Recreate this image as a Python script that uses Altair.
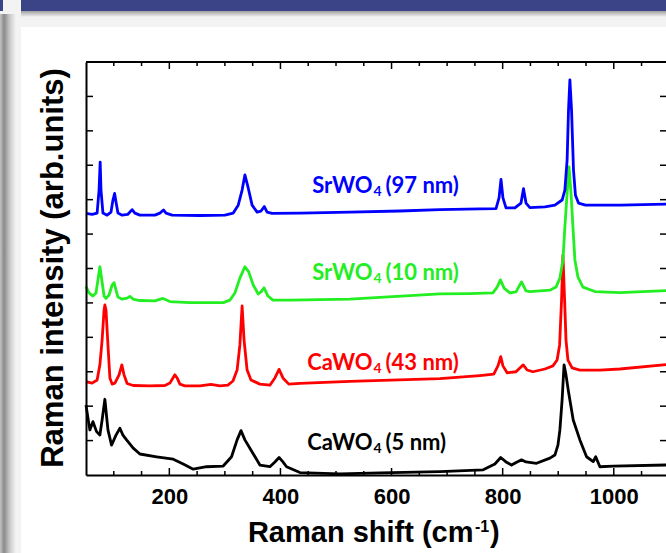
import altair as alt
import pandas as pd

# ---------------- data ----------------
black_x = [50, 53.5, 57, 62.5, 69, 75, 79, 84, 89.5, 96, 104, 111, 116.5, 123, 135, 147, 177, 207, 225, 243,
           267, 297, 312, 322, 329, 336, 345, 363, 381, 390, 397.5, 404.5, 411, 435, 507, 579, 687, 765, 786, 796.5,
           806, 816, 826, 834, 842, 861, 885, 894, 899.5, 903, 907, 910.5, 914, 918, 927, 939, 951, 963, 967.5, 975,
           999, 1094]
black_y = [2.03, 1.66, 1.31, 1.55, 1.26, 1.16, 1.60, 2.20, 1.31, 0.87, 1.16, 1.36, 1.16, 1.02, 0.78, 0.61, 0.53, 0.46, 0.32, 0.17,
           0.24, 0.26, 0.53, 1.02, 1.29, 1.02, 0.78, 0.29, 0.24, 0.38, 0.51, 0.38, 0.24, 0.07, 0.03, 0.06, 0.10, 0.15, 0.32, 0.51,
           0.38, 0.29, 0.38, 0.44, 0.38, 0.34, 0.49, 0.58, 0.87, 1.31, 2.18, 3.20, 2.91, 2.47, 1.60, 1.02, 0.53, 0.39, 0.53, 0.24,
           0.26, 0.29]

red_x = [50, 61, 70, 75, 79, 82.5, 84, 86, 89.5, 93, 97, 102, 109.5, 114.5, 118.5, 124, 135, 165, 192, 201,
         206.5, 210, 214, 219, 228, 255, 275, 291, 305.5, 314.5, 322, 327, 331, 334.5, 340, 347, 363, 381, 390, 397.5,
         404.5, 415, 435, 525, 687, 759, 784, 791.5, 796.5, 800.5, 808, 824, 831, 837, 844, 854.5, 876, 890.5, 898, 902.5,
         906, 908.5, 911.5, 914, 917.5, 925, 939, 975, 1011, 1094]
red_y = [2.71, 2.67, 2.76, 3.20, 3.92, 4.79, 4.94, 4.79, 3.78, 2.82, 2.64, 2.67, 2.91, 3.20, 2.91, 2.66, 2.60, 2.59, 2.60, 2.67,
         2.82, 2.91, 2.82, 2.64, 2.59, 2.59, 2.63, 2.59, 2.61, 2.73, 3.05, 3.78, 4.91, 3.92, 3.05, 2.76, 2.64, 2.61, 2.82, 3.07,
         2.82, 2.64, 2.66, 2.72, 2.80, 2.89, 2.93, 3.17, 3.44, 3.17, 2.97, 3.00, 3.11, 3.20, 3.05, 3.00, 3.08, 3.17, 3.34, 3.78,
         5.08, 6.39, 5.08, 3.92, 3.34, 3.11, 3.05, 3.05, 3.08, 3.21]

green_x = [50, 55.5, 62.5, 68, 71.5, 75, 79, 82.5, 86, 91.5, 97, 100.5, 104, 107.5, 115, 124, 129, 136, 147, 174,
           188.5, 201, 237, 297, 309, 318, 327, 336, 343, 351, 360, 365, 370.5, 377.5, 386.5, 417, 525, 687, 741, 782.5,
           790, 796, 802.5, 813, 824, 834, 842, 849, 885, 896, 903, 908.5, 912, 916, 919.5, 923, 926.5, 930, 935.5, 944.5,
           966, 1011, 1094]
green_y = [5.47, 5.29, 5.20, 5.29, 5.67, 6.05, 5.61, 5.20, 5.13, 5.23, 5.52, 5.59, 5.37, 5.17, 5.11, 5.14, 5.19, 5.10, 5.07, 5.06,
           5.13, 5.04, 5.01, 5.01, 5.08, 5.29, 5.72, 6.05, 5.90, 5.52, 5.26, 5.32, 5.44, 5.20, 5.08, 5.08, 5.11, 5.26, 5.27, 5.29,
           5.46, 5.67, 5.43, 5.29, 5.32, 5.61, 5.35, 5.33, 5.37, 5.46, 5.72, 6.25, 7.21, 8.19, 8.95, 8.19, 7.21, 6.25, 5.75, 5.46,
           5.33, 5.30, 5.36]

blue_x = [50, 61, 70, 73.5, 75.5, 77, 80.5, 88, 95, 98.5, 101.5, 104, 107.5, 115, 125, 133, 138, 147, 174, 183,
          189.5, 194, 205, 255, 300, 315, 324, 331, 336, 342, 349, 358, 365, 371, 376, 385, 435, 525, 615, 687,
          759, 788, 793.5, 797, 800.5, 806, 822, 833, 837.5, 842, 849, 876, 894, 907, 912, 916, 918.5, 921, 924, 927.5,
          931, 936.5, 949, 1012, 1094]
blue_y = [7.60, 7.57, 7.61, 8.28, 9.09, 8.28, 7.61, 7.55, 7.64, 7.99, 8.18, 7.93, 7.61, 7.55, 7.57, 7.71, 7.61, 7.55, 7.55, 7.61,
          7.70, 7.61, 7.55, 7.54, 7.55, 7.61, 7.84, 8.28, 8.72, 8.34, 7.84, 7.64, 7.67, 7.80, 7.64, 7.60, 7.61, 7.64, 7.67, 7.71,
          7.73, 7.74, 8.05, 8.59, 8.05, 7.76, 7.76, 7.90, 8.32, 7.90, 7.77, 7.79, 7.84, 7.99, 8.28, 9.15, 10.60, 11.48, 10.60, 8.86,
          8.13, 7.90, 7.84, 7.84, 7.87]

series_names = ["CaWO4 (5 nm)", "CaWO4 (43 nm)", "SrWO4 (10 nm)", "SrWO4 (97 nm)"]
label_main = ["CaWO", "CaWO", "SrWO", "SrWO"]
label_sub = ["4", "4", "4", "4"]
label_rest = ["(5 nm)", "(43 nm)", "(10 nm)", "(97 nm)"]
label_x = [565.7, 565.7, 565.7, 565.7]
label_y = [0.73, 3.05, 5.67, 8.18]

x_major_ticks = [200, 400, 600, 800, 1000]
x_minor_ticks = [100, 150, 250, 300, 350, 450, 500, 550, 650, 700, 750, 850, 900, 950, 1050]
y_ticks = [1, 2, 3, 4, 5, 6, 7, 8, 9, 10, 11]

x_title_main = "Raman shift (cm"
x_title_sup = "-1"
x_title_end = ")"
y_title = "Raman intensity (arb.units)"

# ---------------- styles ----------------
W, H = 580, 413
series_colors = ["#000000", "#ff0000", "#22ee22", "#0000ff"]
AXIS_FONT = "Liberation Sans"
LABEL_FONT = "Lato"

XS = alt.Scale(domain=[50, 1094], nice=False, zero=False)
YS = alt.Scale(domain=[0, 12], nice=False, zero=False)
XAX = alt.Axis(values=x_major_ticks, format="d", ticks=False, tickSize=0, grid=False, domain=True,
               domainColor="black", domainWidth=2, labelFont=AXIS_FONT, labelFontWeight="bold",
               labelFontSize=22, labelColor="black", labelPadding=11, labelFlush=False,
               labelOverlap=False, title=None, zindex=2)
YAX = alt.Axis(labels=False, ticks=False, tickSize=0, grid=False, domain=True,
               domainColor="black", domainWidth=2, title=None, zindex=2)
COLOR = alt.Color("series:N", scale=alt.Scale(domain=series_names, range=series_colors), legend=None)

dummy = pd.DataFrame({"d": [0]})


def rect(x, x2, y, y2, fill):
    return alt.Chart(dummy).mark_rect(fill=fill, stroke=None).encode(
        x=alt.value(x), x2=alt.value(x2), y=alt.value(y), y2=alt.value(y2))


# slide decoration (background)
white_panel = rect(-65, W, -35, 491, "white")
top_band = rect(-65, W, -62, -51, "#3b4487")
top_left_band = rect(-86, -83, -62, -51, "#3b4487")
band_shadow = rect(-65, W, -51, -45, alt.LinearGradient(
    gradient="linear", x1=0, x2=0, y1=0, y2=1,
    stops=[alt.GradientStop(color="#a0a0a0", offset=0), alt.GradientStop(color="#f3f3f3", offset=1)]))
left_strip = rect(-86, -70, -48, 491, alt.LinearGradient(
    gradient="linear", x1=0, x2=1, y1=0, y2=0,
    stops=[alt.GradientStop(color="#c4c4c4", offset=0), alt.GradientStop(color="#8a8a8a", offset=0.25),
           alt.GradientStop(color="#c8c8c8", offset=0.6), alt.GradientStop(color="#f3f3f3", offset=1)]))

# spectra
layers = []
for xs, ys, name, col in [(black_x, black_y, series_names[0], series_colors[0]),
                          (red_x, red_y, series_names[1], series_colors[1]),
                          (green_x, green_y, series_names[2], series_colors[2]),
                          (blue_x, blue_y, series_names[3], series_colors[3])]:
    df = pd.DataFrame({"x": xs, "y": ys})
    layers.append(alt.Chart(df).mark_line(color=col, strokeWidth=2.8, strokeJoin="round").encode(
        x=alt.X("x:Q", scale=XS, axis=XAX), y=alt.Y("y:Q", scale=YS, axis=YAX)))

# labels
lab_df = pd.DataFrame({"x": label_x, "y": label_y, "main": label_main, "sub": label_sub,
                       "rest": label_rest, "series": series_names})
lab_base = alt.Chart(lab_df).encode(x=alt.X("x:Q", scale=XS, axis=XAX),
                                     y=alt.Y("y:Q", scale=YS, axis=YAX), color=COLOR)
t_main = lab_base.mark_text(align="right", baseline="alphabetic", font=LABEL_FONT,
                            fontWeight="bold", fontSize=22).encode(text="main:N")
t_sub = lab_base.mark_text(align="left", baseline="alphabetic", font=LABEL_FONT, dx=1, dy=3,
                           fontWeight="bold", fontSize=14).encode(text="sub:N")
t_rest = lab_base.mark_text(align="left", baseline="alphabetic", font=LABEL_FONT, dx=13,
                            fontWeight="bold", fontSize=22).encode(text="rest:N")

# ticks (inward)
def xticks(vals, y, y2):
    return alt.Chart(pd.DataFrame({"v": vals})).mark_rule(color="black", strokeWidth=1.5).encode(
        x=alt.X("v:Q", scale=XS, axis=XAX), y=alt.value(y), y2=alt.value(y2))


def yticks(vals, x, x2):
    return alt.Chart(pd.DataFrame({"v": vals})).mark_rule(color="black", strokeWidth=1.5).encode(
        y=alt.Y("v:Q", scale=YS, axis=YAX), x=alt.value(x), x2=alt.value(x2))


tick_layers = [xticks(x_major_ticks, 0, 7), xticks(x_minor_ticks, 0, 4),
               xticks(x_major_ticks, H, H - 7), xticks(x_minor_ticks, H, H - 4),
               yticks(y_ticks, 0, 7), yticks(y_ticks, W, W - 6)]

top_frame = alt.Chart(dummy).mark_rule(color="black", strokeWidth=2).encode(
    x=alt.value(0), x2=alt.value(W), y=alt.value(0))

# axis titles
def txt(s, x, y, size, align, angle=0):
    return alt.Chart(dummy).mark_text(align=align, baseline="alphabetic", font=AXIS_FONT,
                                      fontWeight="bold", fontSize=size, color="black", angle=angle).encode(
        x=alt.value(x), y=alt.value(y), text=alt.value(s))


titles = [txt(x_title_main, 387.5, 480, 29, "right"),
          txt(x_title_sup, 389, 469.5, 16, "left"),
          txt(x_title_end, 404, 480, 29, "left"),
          txt(y_title, -23, 206, 31, "center", angle=270)]

chart = alt.layer(
    white_panel, band_shadow, top_band, top_left_band, left_strip,
    *layers, t_main, t_sub, t_rest, *tick_layers, top_frame, *titles
).properties(
    width=W, height=H,
    padding={"left": 86, "top": 62, "right": 0, "bottom": 78},
    autosize=alt.AutoSizeParams(type="none"),
    background="#f3f3f3",
).configure_view(stroke=None)

chart.save("out.html", embed_options={"renderer": "svg", "actions": False})
